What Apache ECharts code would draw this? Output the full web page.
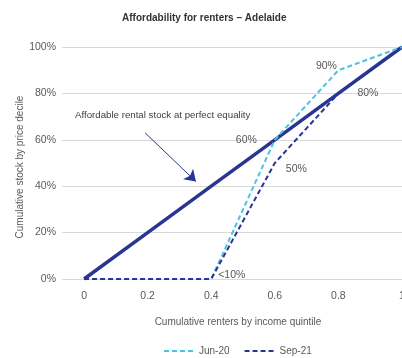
<!DOCTYPE html>
<html>
<head>
<meta charset="utf-8">
<script src="https://cdn.jsdelivr.net/npm/echarts@6/dist/echarts.min.js"></script>
<style>
  html, body { margin: 0; padding: 0; background: #fff; }
  #chart { width: 402px; height: 358px; }
</style>
</head>
<body>
<div id="chart"></div>
<script>
// Cumulative renters by income quintile (x) vs cumulative stock by price decile (%)
const quintiles = [0, 0.2, 0.4, 0.6, 0.8, 1];
const equality = [0, 20, 40, 60, 80, 100];
const jun20 = [0, 0, 0, 60, 90, 100];
const sep21 = [0, 0, 0, 50, 80, 100];
const xTicks = [0, 0.2, 0.4, 0.6, 0.8, 1];
const yTicks = [0, 20, 40, 60, 80, 100];

// Which points carry a value label, and where it sits
const jun20Labels = { 3: 'left', 4: 'topleft' };
const sep21Labels = { 2: 'lt10', 3: 'bottomright', 4: 'right' };

const FONT = "'Liberation Sans', Arial, sans-serif";
const LIGHT = '#4ec3e0';
const NAVY = '#283593';
const TEXT = '#595959';
const FS = 10.5;

function pairs(values) {
  return quintiles.map((q, i) => [q, values[i]]);
}

function labelFor(pos) {
  const base = {
    show: true, color: TEXT, fontSize: FS, fontFamily: FONT,
    formatter: p => p.value[1] + '%'
  };
  if (pos === 'left') return Object.assign(base, { position: 'left', distance: 18 });
  if (pos === 'topleft') return Object.assign(base, { position: 'top', distance: -1, offset: [-12, 0] });
  if (pos === 'right') return Object.assign(base, { position: 'right', distance: 19 });
  if (pos === 'bottomright') return Object.assign(base, { position: 'right', distance: 11, offset: [0, 6] });
  if (pos === 'lt10') return Object.assign(base, { position: 'right', distance: 7, offset: [0, -4], formatter: '<10%' });
  return base;
}

function labelled(values, labels) {
  return pairs(values).map((p, i) => {
    if (labels[i] === undefined) return p;
    return { value: p, label: labelFor(labels[i]) };
  });
}

const chart = echarts.init(document.getElementById('chart'), null, { renderer: 'canvas' });

chart.setOption({
  animation: false,
  backgroundColor: '#ffffff',
  textStyle: { fontFamily: FONT },
  title: {
    text: 'Affordability for renters \u2013 Adelaide',
    left: 117, top: 8,
    textStyle: { fontSize: 10, fontWeight: 'bold', color: '#333333', fontFamily: FONT }
  },
  legend: {
    bottom: -3, left: 158,
    itemWidth: 30, itemHeight: 6, itemGap: 14,
    data: ['Jun-20', 'Sep-21'],
    itemStyle: { opacity: 0 },
    textStyle: { fontSize: 10, color: TEXT, fontFamily: FONT }
  },
  grid: { left: 62, right: 0, top: 47, bottom: 79, containLabel: false, outerBoundsMode: 'none' },
  xAxis: {
    type: 'value',
    min: -0.0694, max: 1,
    name: 'Cumulative renters by income quintile',
    nameLocation: 'middle', nameGap: 38,
    nameTextStyle: { fontSize: 10, color: TEXT, fontFamily: FONT, padding: [0, 0, 0, 12] },
    axisLine: { show: false },
    axisTick: { show: false },
    splitLine: { show: false },
    axisLabel: {
      customValues: xTicks,
      color: TEXT, fontSize: FS, fontFamily: FONT, margin: 12,
      formatter: v => String(v)
    }
  },
  yAxis: {
    type: 'value',
    min: 0, max: 100, interval: 20,
    axisLine: { show: false },
    axisTick: { show: false },
    splitLine: { lineStyle: { color: '#d9d9d9', width: 1 } },
    axisLabel: {
      color: TEXT, fontSize: FS, fontFamily: FONT, margin: 6,
      formatter: v => yTicks.includes(v) ? v + '%' : ''
    }
  },
  series: [
    {
      name: 'Equality',
      type: 'line',
      data: pairs(equality),
      showSymbol: false,
      lineStyle: { color: NAVY, width: 3.5 },
      itemStyle: { color: NAVY },
      z: 2,
      markLine: {
        silent: true,
        symbol: ['none', 'arrow'],
        symbolSize: 11,
        label: { show: false },
        lineStyle: { color: NAVY, width: 1, type: 'solid' },
        emphasis: { disabled: true },
        data: [[{ coord: [0.192, 63] }, { coord: [0.352, 42] }]]
      }
    },
    {
      name: 'Jun-20',
      type: 'line',
      data: labelled(jun20, jun20Labels),
      showSymbol: true,
      symbol: 'circle',
      symbolSize: 0,
      lineStyle: { color: LIGHT, width: 2, type: [5, 3] },
      itemStyle: { color: LIGHT },
      z: 3
    },
    {
      name: 'Sep-21',
      type: 'line',
      data: labelled(sep21, sep21Labels),
      showSymbol: true,
      symbol: 'circle',
      symbolSize: 0,
      lineStyle: { color: NAVY, width: 2, type: [5, 3] },
      itemStyle: { color: NAVY },
      z: 4
    }
  ],
  graphic: [
    {
      type: 'text',
      left: 75, top: 110,
      style: {
        text: 'Affordable rental stock at perfect equality',
        fill: '#404040', fontSize: 9.7, fontFamily: FONT
      }
    },
    {
      // y-axis title, rotated to read bottom-to-top
      type: 'text',
      x: 20, y: 167,
      rotation: Math.PI / 2,
      style: {
        text: 'Cumulative stock by price decile',
        fill: TEXT, fontSize: 10, fontFamily: FONT,
        align: 'center', verticalAlign: 'middle'
      }
    }
  ]
});
</script>
</body>
</html>
